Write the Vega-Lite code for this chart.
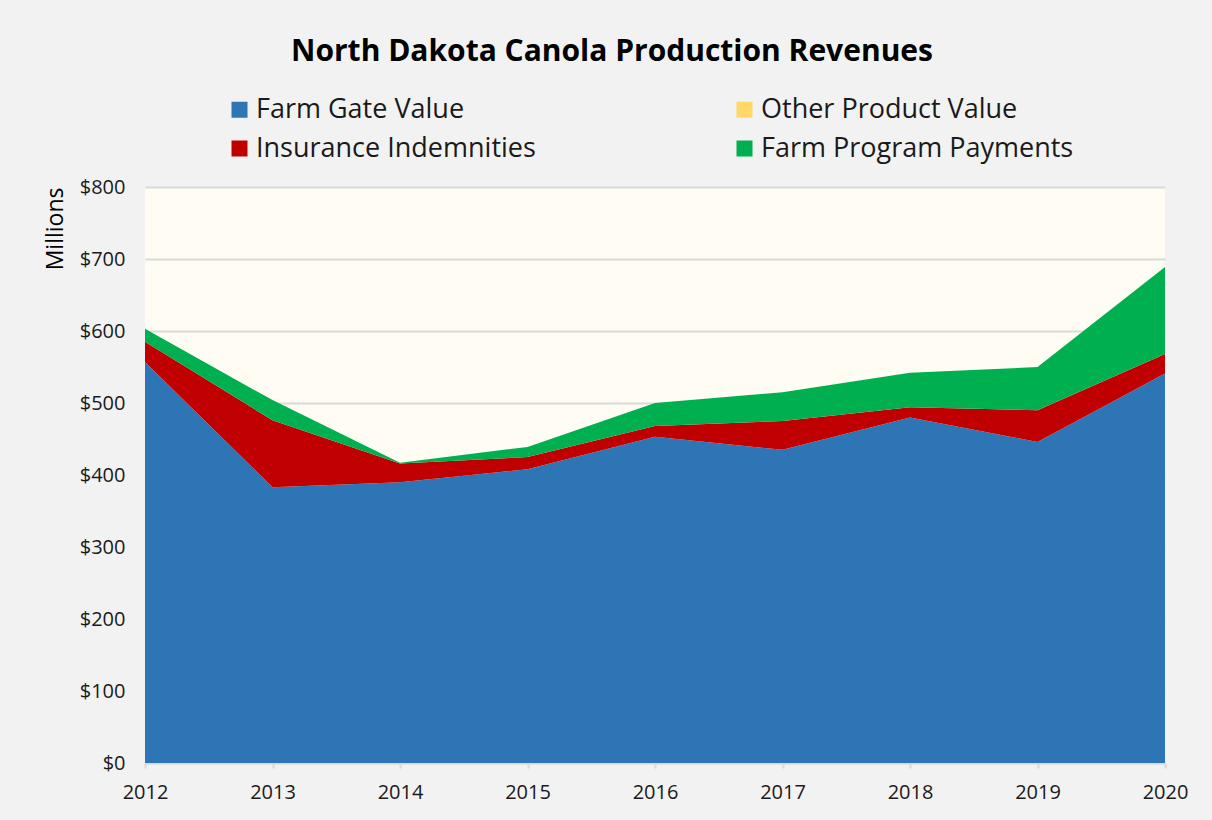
{
  "$schema": "https://vega.github.io/schema/vega-lite/v6.json",
  "width": 1020,
  "height": 576,
  "autosize": {"type": "none"},
  "padding": {"left": 145, "top": 187, "right": 47, "bottom": 57},
  "background": "#F2F2F2",
  "title": {
    "text": "North Dakota Canola Production Revenues",
    "font": "Open Sans",
    "fontSize": 30,
    "fontWeight": "bold",
    "color": "#000000",
    "anchor": "middle",
    "dx": -43,
    "offset": 29
  },
  "data": {
    "values": [
      {"year": "2012", "series": "Farm Gate Value", "ord": 1, "value": 557},
      {"year": "2013", "series": "Farm Gate Value", "ord": 1, "value": 383},
      {"year": "2014", "series": "Farm Gate Value", "ord": 1, "value": 390},
      {"year": "2015", "series": "Farm Gate Value", "ord": 1, "value": 408},
      {"year": "2016", "series": "Farm Gate Value", "ord": 1, "value": 453},
      {"year": "2017", "series": "Farm Gate Value", "ord": 1, "value": 435},
      {"year": "2018", "series": "Farm Gate Value", "ord": 1, "value": 480},
      {"year": "2019", "series": "Farm Gate Value", "ord": 1, "value": 446},
      {"year": "2020", "series": "Farm Gate Value", "ord": 1, "value": 541},
      {"year": "2012", "series": "Insurance Indemnities", "ord": 2, "value": 28},
      {"year": "2013", "series": "Insurance Indemnities", "ord": 2, "value": 93},
      {"year": "2014", "series": "Insurance Indemnities", "ord": 2, "value": 26},
      {"year": "2015", "series": "Insurance Indemnities", "ord": 2, "value": 17},
      {"year": "2016", "series": "Insurance Indemnities", "ord": 2, "value": 15},
      {"year": "2017", "series": "Insurance Indemnities", "ord": 2, "value": 40},
      {"year": "2018", "series": "Insurance Indemnities", "ord": 2, "value": 14},
      {"year": "2019", "series": "Insurance Indemnities", "ord": 2, "value": 44},
      {"year": "2020", "series": "Insurance Indemnities", "ord": 2, "value": 27},
      {"year": "2012", "series": "Other Product Value", "ord": 3, "value": 0},
      {"year": "2013", "series": "Other Product Value", "ord": 3, "value": 0},
      {"year": "2014", "series": "Other Product Value", "ord": 3, "value": 0},
      {"year": "2015", "series": "Other Product Value", "ord": 3, "value": 0},
      {"year": "2016", "series": "Other Product Value", "ord": 3, "value": 0},
      {"year": "2017", "series": "Other Product Value", "ord": 3, "value": 0},
      {"year": "2018", "series": "Other Product Value", "ord": 3, "value": 0},
      {"year": "2019", "series": "Other Product Value", "ord": 3, "value": 0},
      {"year": "2020", "series": "Other Product Value", "ord": 3, "value": 0},
      {"year": "2012", "series": "Farm Program Payments", "ord": 4, "value": 18},
      {"year": "2013", "series": "Farm Program Payments", "ord": 4, "value": 28},
      {"year": "2014", "series": "Farm Program Payments", "ord": 4, "value": 1},
      {"year": "2015", "series": "Farm Program Payments", "ord": 4, "value": 14},
      {"year": "2016", "series": "Farm Program Payments", "ord": 4, "value": 32},
      {"year": "2017", "series": "Farm Program Payments", "ord": 4, "value": 40},
      {"year": "2018", "series": "Farm Program Payments", "ord": 4, "value": 48},
      {"year": "2019", "series": "Farm Program Payments", "ord": 4, "value": 60},
      {"year": "2020", "series": "Farm Program Payments", "ord": 4, "value": 121}
    ]
  },
  "mark": {"type": "area", "line": false, "opacity": 1},
  "encoding": {
    "x": {
      "field": "year",
      "type": "ordinal",
      "scale": {"type": "point", "padding": 0},
      "axis": {
        "title": null,
        "labelAngle": 0,
        "labelFont": "Open Sans",
        "labelFontSize": 20,
        "labelColor": "#1A1A1A",
        "labelPadding": 14,
        "domainColor": "#D9D9D9",
        "domainWidth": 2,
        "tickColor": "#D9D9D9",
        "tickWidth": 2,
        "tickSize": 5,
        "grid": false
      }
    },
    "y": {
      "field": "value",
      "type": "quantitative",
      "stack": "zero",
      "scale": {"domain": [0, 800], "nice": false},
      "axis": {
        "title": "Millions",
        "titleFont": "Open Sans",
        "titleFontSize": 23,
        "titleFontWeight": "normal",
        "titleColor": "#000000",
        "titleAnchor": "end",
        "titlePadding": 12,
        "values": [0, 100, 200, 300, 400, 500, 600, 700, 800],
        "format": "$,.0f",
        "labelFont": "Open Sans",
        "labelFontSize": 20,
        "labelColor": "#1A1A1A",
        "labelPadding": 20,
        "domain": false,
        "ticks": false,
        "grid": true,
        "gridColor": "#D9D9D9",
        "gridWidth": 2
      }
    },
    "color": {
      "field": "series",
      "type": "nominal",
      "scale": {
        "domain": ["Farm Gate Value", "Other Product Value", "Insurance Indemnities", "Farm Program Payments"],
        "range": ["#2E75B6", "#FFD966", "#C00000", "#00B050"]
      },
      "legend": {
        "title": null,
        "orient": "none",
        "legendX": 81,
        "legendY": -91,
        "columns": 2,
        "direction": "horizontal",
        "symbolType": "square",
        "symbolSize": 256,
        "symbolStrokeWidth": 0,
        "symbolOpacity": 1,
        "labelFont": "Open Sans",
        "labelFontSize": 27,
        "labelColor": "#1A1A1A",
        "labelLimit": 400,
        "rowPadding": 11,
        "columnPadding": 195,
        "labelOffset": 3
      }
    },
    "order": {"field": "ord", "type": "quantitative", "sort": "ascending"}
  },
  "config": {
    "view": {"fill": "#FFFCF3", "stroke": null}
  }
}
